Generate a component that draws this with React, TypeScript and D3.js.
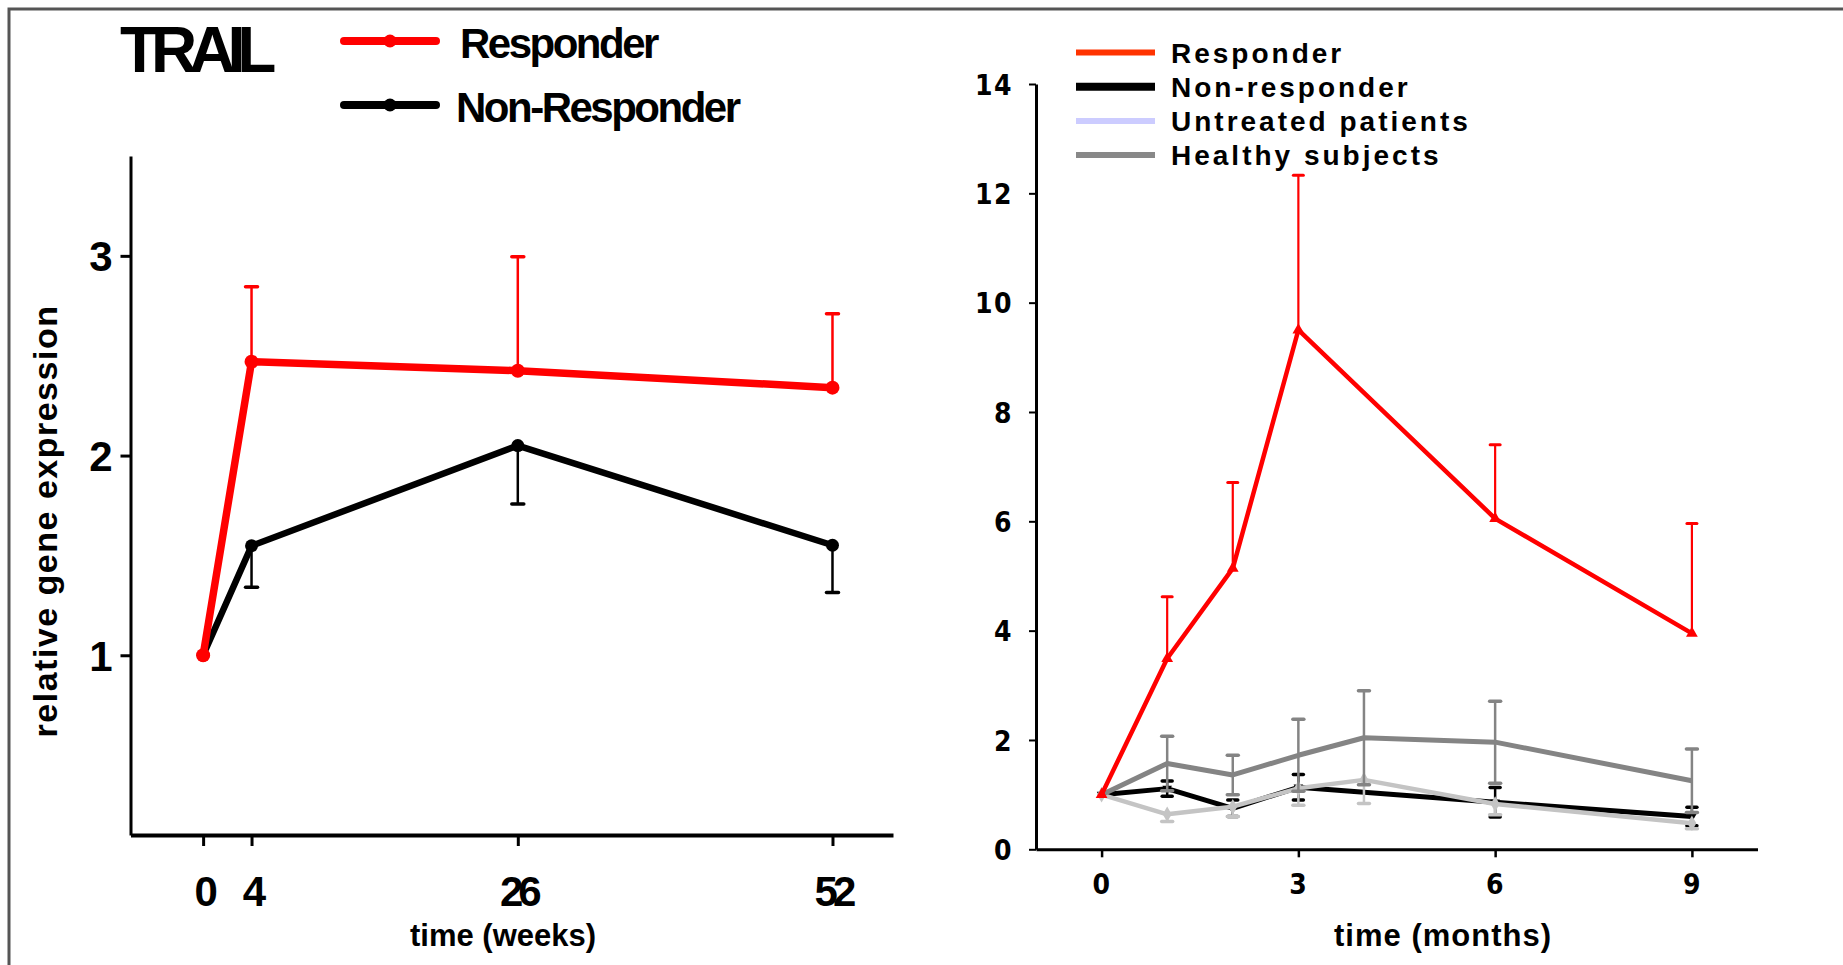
import * as d3 from "d3"
import { useEffect, useRef } from "react"

// left panel: TRAIL over weeks
const weeks = [0, 4, 26, 52]
const weekTicks = [0, 4, 26, 52]
const trailYTicks = [1, 2, 3]
const trailResponder = [1.0, 2.47, 2.425, 2.34]
const trailResponderSd = [0, 0.375, 0.57, 0.37]
const trailNonResponder = [1.0, 1.548, 2.05, 1.551]
const trailNonResponderSd = [0, 0.208, 0.293, 0.237]
const trailLegend = ["Responder", "Non-Responder"]

// right panel: months
const months = [0, 1, 2, 3, 6, 9]
const monthsFull = [0, 1, 2, 3, 4, 6, 9]
const monthTicks = [0, 3, 6, 9]
const monthYTicks = [0, 2, 4, 6, 8, 10, 12, 14]
const responder = [1.0, 3.49, 5.14, 9.5, 6.05, 3.95]
const responderSd = [0, 1.13, 1.57, 2.83, 1.35, 2.01]
const nonResponder = [1.0, 1.11, 0.75, 1.135, 0.86, 0.6]
const nonResponderSd = [0, 0.14, 0.15, 0.235, 0.27, 0.17]
const untreated = [1.0, 0.64, 0.78, 1.115, 1.27, 0.83, 0.475]
const untreatedSd = [0, 0.13, 0.18, 0.31, 0.43, 0.2, 0.1]
const healthy = [1.0, 1.57, 1.36, 1.72, 2.04, 1.96, 1.255]
const healthySd = [0, 0.5, 0.36, 0.66, 0.86, 0.75, 0.58]
const monthLegend = [
  "Responder",
  "Non-responder",
  "Untreated patients",
  "Healthy subjects",
]

const FONT = "'Liberation Sans', Arial, Helvetica, sans-serif"
const NARROW = "'Liberation Sans Narrow', 'DejaVu Sans Condensed', Arial, sans-serif"

type Opts = {
  color: string
  width: number
  dir: "up" | "down" | "both"
  barWidth: number
  capHalf: number
  capWidth: number
  barColor?: string
  symbol?: d3.SymbolType | "circle"
  symbolSize?: number
  symbolRotate?: number
}

function drawSeries(
  g: d3.Selection<SVGGElement, unknown, null, undefined>,
  x: d3.ScaleLinear<number, number>,
  y: d3.ScaleLinear<number, number>,
  xs: number[],
  ys: number[],
  sd: number[],
  o: Opts,
) {
  const pts = xs.map((t, i) => ({ t, v: ys[i], e: sd[i] }))
  const s = g.append("g")
  const barColor = o.barColor || o.color

  // error bars
  const bars = pts.filter((p) => p.e > 0)
  const ends = (p: { v: number; e: number }) => {
    if (o.dir === "up") return [p.v, p.v + p.e]
    if (o.dir === "down") return [p.v, p.v - p.e]
    return [p.v - p.e, p.v + p.e]
  }
  s.selectAll(".bar")
    .data(bars)
    .enter()
    .append("line")
    .attr("x1", (p) => x(p.t))
    .attr("x2", (p) => x(p.t))
    .attr("y1", (p) => y(ends(p)[0]))
    .attr("y2", (p) => y(ends(p)[1]))
    .attr("stroke", barColor)
    .attr("stroke-width", o.barWidth)

  const caps = bars.flatMap((p) => {
    const [a, b] = ends(p)
    return o.dir === "both" ? [{ t: p.t, v: a }, { t: p.t, v: b }] : [{ t: p.t, v: b }]
  })
  s.selectAll(".cap")
    .data(caps)
    .enter()
    .append("line")
    .attr("x1", (p) => x(p.t) - o.capHalf)
    .attr("x2", (p) => x(p.t) + o.capHalf)
    .attr("y1", (p) => y(p.v))
    .attr("y2", (p) => y(p.v))
    .attr("stroke", barColor)
    .attr("stroke-width", o.capWidth)
    .attr("stroke-linecap", "round")

  const line = d3
    .line<{ t: number; v: number }>()
    .x((p) => x(p.t))
    .y((p) => y(p.v))

  s.append("path")
    .datum(pts)
    .attr("d", line)
    .attr("fill", "none")
    .attr("stroke", o.color)
    .attr("stroke-width", o.width)
    .attr("stroke-linejoin", "round")

  if (o.symbol === "circle") {
    s.selectAll(".pt")
      .data(pts)
      .enter()
      .append("circle")
      .attr("cx", (p) => x(p.t))
      .attr("cy", (p) => y(p.v))
      .attr("r", o.symbolSize || 6)
      .attr("fill", o.color)
  } else if (o.symbol) {
    const sym = d3.symbol().type(o.symbol).size(o.symbolSize || 60)
    s.selectAll(".pt")
      .data(pts)
      .enter()
      .append("path")
      .attr("d", sym)
      .attr(
        "transform",
        (p) => `translate(${x(p.t)},${y(p.v)}) rotate(${o.symbolRotate || 0})`,
      )
      .attr("fill", o.color)
  }
}

const App = () => {
  const svgRef = useRef<SVGSVGElement | null>(null)

  useEffect(() => {
    if (!svgRef.current) return
    const svg = d3.select(svgRef.current)
    svg.selectAll("*").remove()

    // frame
    svg
      .append("path")
      .attr("d", "M9,965V9H1843")
      .attr("fill", "none")
      .attr("stroke", "#555")
      .attr("stroke-width", 3)

    // ---------- left panel ----------
    const xL = d3.scaleLinear().domain([-6, 57]).range([130.5, 893])
    const yL = d3.scaleLinear().domain([0.1, 3.5]).range([835, 156])
    const left = svg.append("g").style("font-family", FONT)

    const xAxisL = left
      .append("g")
      .attr("transform", `translate(0,${yL(0.1)})`)
      .call(d3.axisBottom(xL).tickValues(weekTicks).tickSize(11).tickSizeOuter(0))
    xAxisL.select(".domain").attr("stroke-width", 4)
    xAxisL.selectAll(".tick line").attr("stroke-width", 3)
    xAxisL
      .selectAll(".tick text")
      .attr("y", 71)
      .attr("dy", 0)
      .style("font-family", FONT)
      .style("font-size", "42px")
      .style("font-weight", "bold")
      .style("letter-spacing", "-5px")

    const yAxisL = left
      .append("g")
      .attr("transform", `translate(${xL(-6)},0)`)
      .call(
        d3
          .axisLeft(yL)
          .tickValues(trailYTicks)
          .tickSize(10)
          .tickPadding(8)
          .tickFormat(d3.format("d"))
          .tickSizeOuter(0),
      )
    yAxisL.select(".domain").attr("stroke-width", 3)
    yAxisL.selectAll(".tick line").attr("stroke-width", 3)
    yAxisL
      .selectAll(".tick text")
      .attr("dy", "0.36em")
      .style("font-family", FONT)
      .style("font-size", "42px")
      .style("font-weight", "bold")

    drawSeries(left, xL, yL, weeks, trailNonResponder, trailNonResponderSd, {
      color: "#000",
      width: 6.5,
      dir: "down",
      barWidth: 2.5,
      capHalf: 6,
      capWidth: 3.5,
      symbol: "circle",
      symbolSize: 6.5,
    })
    drawSeries(left, xL, yL, weeks, trailResponder, trailResponderSd, {
      color: "#ff0000",
      width: 7.5,
      dir: "up",
      barWidth: 2.5,
      capHalf: 6,
      capWidth: 3.5,
      symbol: "circle",
      symbolSize: 7,
    })

    left
      .append("text")
      .attr("x", 120)
      .attr("y", 72)
      .style("font-size", "64px")
      .style("font-weight", "bold")
      .style("letter-spacing", "-8px")
      .text("TRAIL")

    const legL = left
      .selectAll(".legL")
      .data(trailLegend)
      .enter()
      .append("g")
      .attr("transform", (_, i) => `translate(0,${41 + i * 64})`)
    legL
      .append("line")
      .attr("x1", 344)
      .attr("x2", 436)
      .attr("stroke", (_, i) => (i === 0 ? "#ff0000" : "#000"))
      .attr("stroke-width", 8)
      .attr("stroke-linecap", "round")
    legL
      .append("circle")
      .attr("cx", 390)
      .attr("r", 6.5)
      .attr("fill", (_, i) => (i === 0 ? "#ff0000" : "#000"))
    legL
      .append("text")
      .attr("x", (_, i) => (i === 0 ? 460 : 456))
      .attr("y", 17)
      .style("font-size", "42px")
      .style("font-weight", "bold")
      .style("letter-spacing", "-2.5px")
      .text((d) => d)

    left
      .append("text")
      .attr("transform", "translate(57,521) rotate(-90)")
      .attr("text-anchor", "middle")
      .style("font-size", "34px")
      .style("font-weight", "bold")
      .style("letter-spacing", "1.5px")
      .text("relative gene expression")

    left
      .append("text")
      .attr("x", 503)
      .attr("y", 946)
      .attr("text-anchor", "middle")
      .style("font-size", "31px")
      .style("font-weight", "bold")
      .text("time (weeks)")

    // ---------- right panel ----------
    const xR = d3.scaleLinear().domain([-1, 10]).range([1036, 1757.5])
    const yR = d3.scaleLinear().domain([0, 14]).range([849.3, 84])
    const right = svg.append("g").style("font-family", FONT)

    const xAxisR = right
      .append("g")
      .attr("transform", `translate(0,${yR(0)})`)
      .call(d3.axisBottom(xR).tickValues(monthTicks).tickSize(8).tickSizeOuter(0))
    xAxisR.select(".domain").attr("stroke-width", 3)
    xAxisR.selectAll(".tick line").attr("stroke-width", 2.5)
    xAxisR
      .selectAll(".tick text")
      .attr("y", 45)
      .attr("dy", 0)
      .style("font-family", NARROW)
      .style("font-size", "28px")
      .style("font-weight", "bold")
      .style("letter-spacing", "1.5px")

    const yAxisR = right
      .append("g")
      .attr("transform", `translate(${xR(-1)},0)`)
      .call(
        d3
          .axisLeft(yR)
          .tickValues(monthYTicks)
          .tickSize(7)
          .tickPadding(16)
          .tickSizeOuter(0),
      )
    yAxisR.select(".domain").attr("stroke-width", 3)
    yAxisR.selectAll(".tick line").attr("stroke-width", 2)
    yAxisR
      .selectAll(".tick text")
      .attr("dy", "0.36em")
      .style("font-family", NARROW)
      .style("font-size", "28px")
      .style("font-weight", "bold")
      .style("letter-spacing", "1.5px")

    drawSeries(right, xR, yR, months, nonResponder, nonResponderSd, {
      color: "#000",
      width: 5,
      dir: "both",
      barWidth: 2.5,
      capHalf: 5,
      capWidth: 3.5,
      symbol: d3.symbolTriangle,
      symbolSize: 40,
      symbolRotate: 180,
    })
    drawSeries(right, xR, yR, monthsFull, untreated, untreatedSd, {
      color: "#c4c4c4",
      width: 4.5,
      dir: "down",
      barWidth: 2.5,
      capHalf: 5.5,
      capWidth: 3.5,
      symbol: d3.symbolDiamond,
      symbolSize: 70,
    })
    drawSeries(right, xR, yR, monthsFull, healthy, healthySd, {
      color: "#848484",
      width: 5,
      dir: "both",
      barWidth: 2.5,
      capHalf: 5.5,
      capWidth: 3.5,
    })
    drawSeries(right, xR, yR, months, responder, responderSd, {
      color: "#ff0000",
      width: 4.5,
      dir: "up",
      barWidth: 2.2,
      capHalf: 5,
      capWidth: 3,
      symbol: d3.symbolTriangle,
      symbolSize: 60,
    })

    const legColors = ["#ff3300", "#000000", "#ccccff", "#888888"]
    const legWidths = [6, 8, 6, 6]
    const legR = right
      .selectAll(".legR")
      .data(monthLegend)
      .enter()
      .append("g")
      .attr("transform", (_, i) => `translate(0,${52.5 + i * 34.2})`)
    legR
      .append("line")
      .attr("x1", 1076)
      .attr("x2", 1155)
      .attr("stroke", (_, i) => legColors[i])
      .attr("stroke-width", (_, i) => legWidths[i])
    legR
      .append("text")
      .attr("x", 1171)
      .attr("y", 10)
      .style("font-size", "28px")
      .style("font-weight", "bold")
      .style("letter-spacing", "3px")
      .text((d) => d)

    right
      .append("text")
      .attr("x", 1443)
      .attr("y", 946)
      .attr("text-anchor", "middle")
      .style("font-size", "31px")
      .style("font-weight", "bold")
      .style("letter-spacing", "1px")
      .text("time (months)")
  }, [])

  return (
    <svg
      ref={svgRef}
      width={1843}
      height={965}
      style={{ position: "absolute", left: 0, top: 0, background: "#fff" }}
    />
  )
}

export default App
